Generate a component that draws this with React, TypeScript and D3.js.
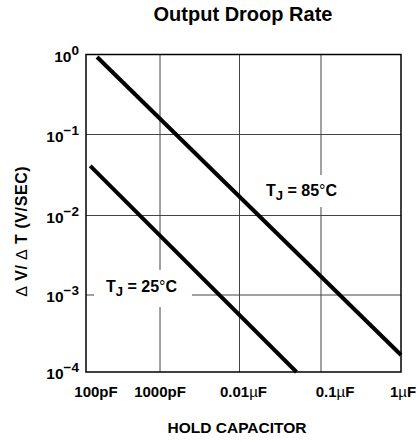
import React from "react";
import * as d3 from "d3";

// ---- data ----
const xDecades = [1e-10, 1e-9, 1e-8, 1e-7, 1e-6];
const xTickLabels = ["100pF", "1000pF", "0.01", "0.1", "1"];
const xTickUnits = ["", "", "µ", "µ", "µ"];
const yDecades = [1, 1e-1, 1e-2, 1e-3, 1e-4];
const yExponents = ["0", "−1", "−2", "−3", "−4"];

const cap85 = [1.41e-10, 1e-6];
const droop85 = [0.93, 1.66e-4];
const cap25 = [1.14e-10, 5.0e-8];
const droop25 = [0.041, 1e-4];

const seriesLabels = ["85", "25"];

// ---- layout ----
const W = 420;
const H = 442;
const FONT = "'Liberation Sans', Arial, Helvetica, sans-serif";

const x = d3.scaleLog().domain(xDecades).range([86, 160, 239.5, 321, 401]);
const y = d3.scaleLog().domain(yDecades).range([54.5, 134.5, 215.5, 295, 372]);

const line = d3
  .line<[number, number]>()
  .x((d) => x(d[0]))
  .y((d) => y(d[1]));

const xLabelDx = [10, 0, 4, 14, 2];

function TjLabel({ px, py, temp }: { px: number; py: number; temp: string }) {
  return (
    <text x={px} y={py} fontFamily={FONT} fontWeight="bold" fontSize={16} fill="#000">
      T
      <tspan fontSize={13} dy={4}>J</tspan>
      <tspan dy={-4}>{` = ${temp}`}</tspan>
      <tspan fontWeight="normal">°</tspan>
      <tspan>C</tspan>
    </text>
  );
}

export default function App() {
  const [x0, x1] = [x(1e-10), x(1e-6)];
  const [y0, y1] = [y(1), y(1e-4)];
  const p85 = cap85.map((c, i) => [c, droop85[i]] as [number, number]);
  const p25 = cap25.map((c, i) => [c, droop25[i]] as [number, number]);

  return (
    <svg
      width={W}
      height={H}
      viewBox={`0 0 ${W} ${H}`}
      style={{ position: "absolute", left: 0, top: 0, background: "#fff" }}
    >
      <rect x={0} y={0} width={W} height={H} fill="#fff" />
      {/* title */}
      <text x={243} y={21} textAnchor="middle" fontFamily={FONT} fontWeight="bold" fontSize={20}>
        Output Droop Rate
      </text>

      {/* grid */}
      {xDecades.slice(1, -1).map((d, i) => (
        <line key={"gx" + i} x1={x(d)} x2={x(d)} y1={y0} y2={y1} stroke="#444" strokeWidth={1} />
      ))}
      {yDecades.slice(1, -1).map((d, i) => (
        <line key={"gy" + i} x1={x0} x2={x1} y1={y(d)} y2={y(d)} stroke="#444" strokeWidth={1} />
      ))}

      {/* label background boxes */}
      <rect x={258} y={175} width={90} height={32} fill="#fff" />
      <rect x={94} y={270} width={98} height={37} fill="#fff" />

      {/* frame */}
      <rect x={x0} y={y0} width={x1 - x0} height={y1 - y0} fill="none" stroke="#000" strokeWidth={1.5} />

      {/* data lines */}
      <path d={line(p85) || ""} fill="none" stroke="#000" strokeWidth={4} />
      <path d={line(p25) || ""} fill="none" stroke="#000" strokeWidth={4} />

      {/* series labels */}
      <TjLabel px={266} py={196} temp={seriesLabels[0]} />
      <TjLabel px={106} py={292} temp={seriesLabels[1]} />

      {/* y tick labels */}
      {yDecades.map((d, i) => (
        <text
          key={"yt" + i}
          x={79}
          y={y(d) + 7}
          textAnchor="end"
          fontFamily={FONT}
          fontWeight="bold"
          fontSize={15.5}
        >
          10
          <tspan fontSize={13.5} dy={-7}>{yExponents[i]}</tspan>
        </text>
      ))}

      {/* x tick labels */}
      {xDecades.map((d, i) => (
        <text
          key={"xt" + i}
          x={x(d) + xLabelDx[i]}
          y={397}
          textAnchor="middle"
          fontFamily={FONT}
          fontWeight="bold"
          fontSize={15}
        >
          {xTickLabels[i]}
          {xTickUnits[i] ? (
            <>
              <tspan fontWeight="normal">{xTickUnits[i]}</tspan>
              <tspan>F</tspan>
            </>
          ) : null}
        </text>
      ))}

      {/* axis titles */}
      <text x={237} y={433} textAnchor="middle" fontFamily={FONT} fontWeight="bold" fontSize={15.5}>
        HOLD CAPACITOR
      </text>
      <text
        transform={`translate(27,231) rotate(-90)`}
        textAnchor="middle"
        fontFamily={FONT}
        fontWeight="bold"
        fontSize={16}
        letterSpacing={0.6}
      >
        <tspan fontWeight="normal">∆</tspan>{" "}V/{" "}<tspan fontWeight="normal">∆</tspan>{" "}T (V/SEC)
      </text>
    </svg>
  );
}
